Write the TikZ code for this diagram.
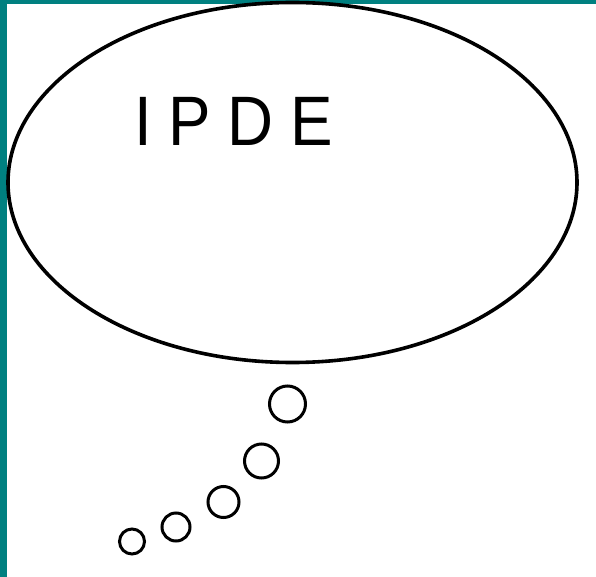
\documentclass[tikz,border=0pt]{standalone}
\usepackage{fontspec}
\setmainfont{Liberation Sans}
\definecolor{frame}{HTML}{008080}
\begin{document}
\begin{tikzpicture}[x=1pt,y=-1pt,
  bubble/.style={draw=black,line width=3.6pt},
  puff/.style={circle,draw=black,line width=3pt,inner sep=0pt}]
\useasboundingbox (0,0) rectangle (596,577);
\fill[white] (0,0) rectangle (596,577);
\fill[frame] (0,0) rectangle (7,577);
\fill[frame] (0,0) rectangle (596,4);
\draw[bubble] (292.5,182.5) ellipse [x radius=284.5, y radius=180];
\node[anchor=base west,inner sep=0pt,font=\fontsize{70}{70}\selectfont] (t) at (134,145.5)
  {\scalebox{0.91}[1]{I\hspace{18pt}P\hspace{17.9pt}D\hspace{18.8pt}E}};
\node[puff,minimum size=36pt] (c1) at (287.5,404) {};
\node[puff,minimum size=34pt] (c2) at (261.5,461) {};
\node[puff,minimum size=31pt] (c3) at (223.5,502) {};
\node[puff,minimum size=28pt] (c4) at (176,527) {};
\node[puff,minimum size=25pt] (c5) at (132,541.5) {};
\end{tikzpicture}
\end{document}
